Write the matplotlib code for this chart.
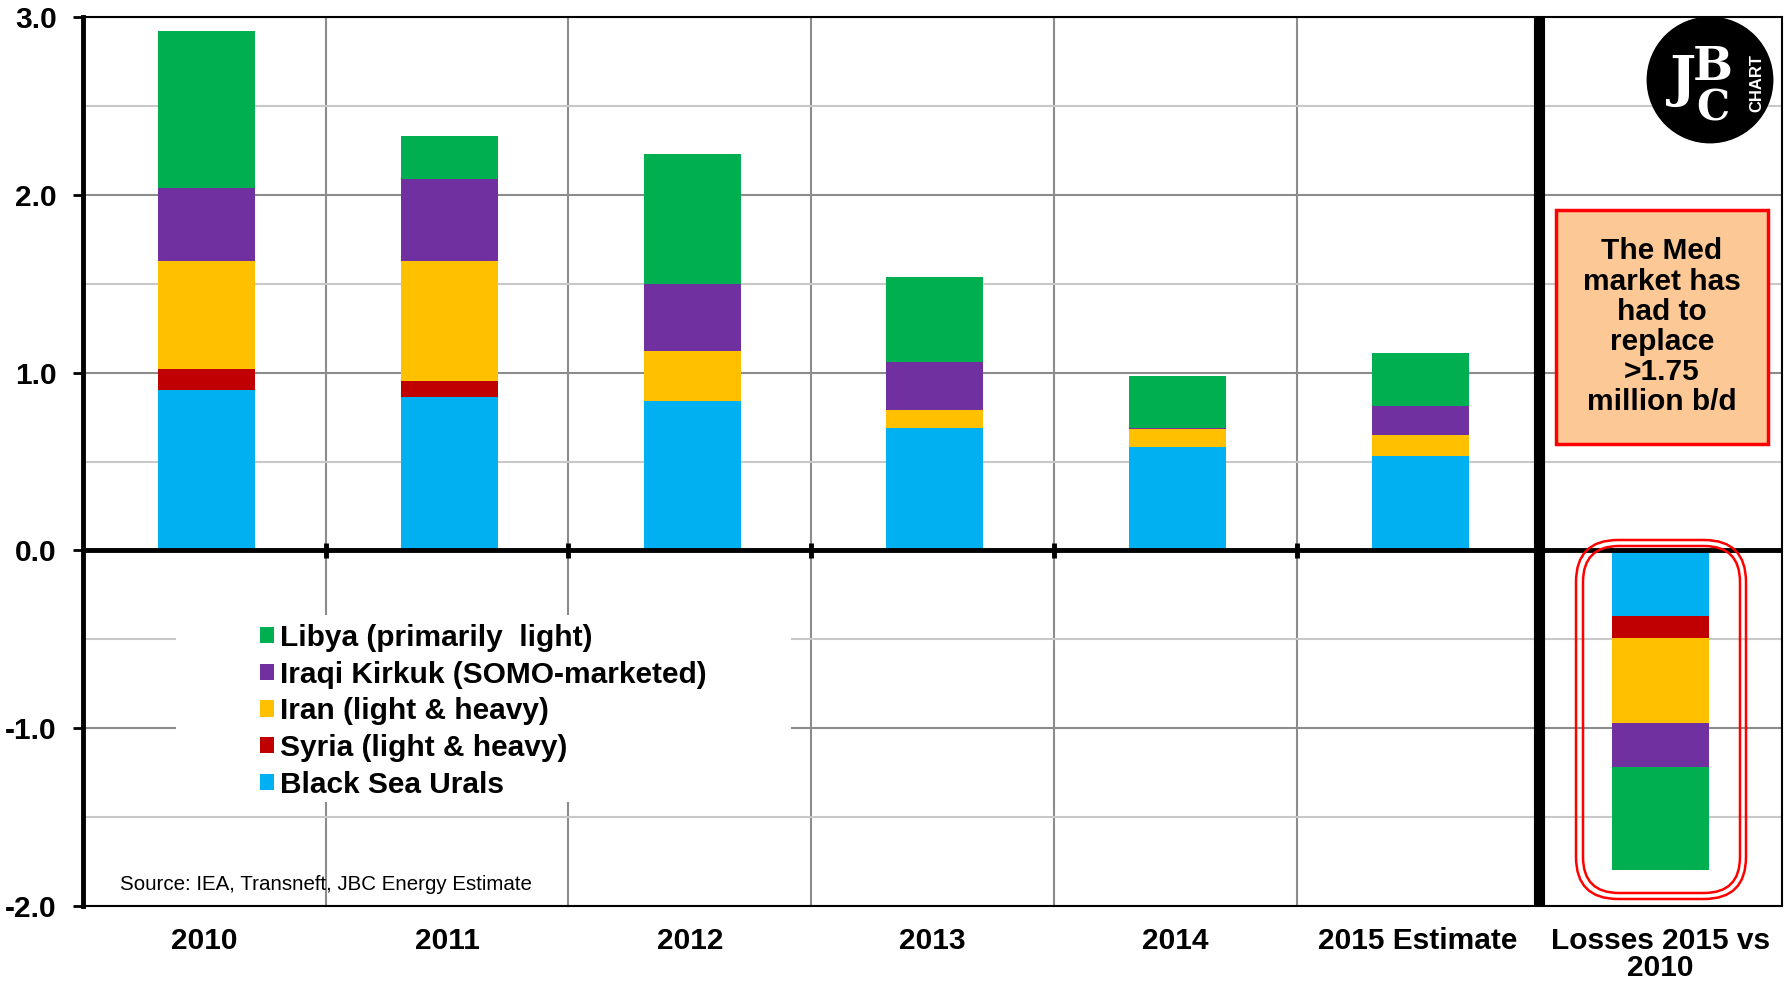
import numpy as np
import matplotlib.pyplot as plt
from matplotlib.patches import Rectangle, FancyBboxPatch, Circle

plt.rcParams['font.family'] = ['Liberation Sans', 'DejaVu Sans']

# Med crude supply by grade, million b/d
years = ['2010', '2011', '2012', '2013', '2014', '2015 Estimate']
urals = [0.90, 0.86, 0.84, 0.69, 0.58, 0.53]
syria = [0.12, 0.09, 0.00, 0.00, 0.00, 0.00]
iran = [0.61, 0.68, 0.28, 0.10, 0.10, 0.12]
iraq = [0.41, 0.46, 0.38, 0.27, 0.01, 0.16]
libya = [0.88, 0.24, 0.73, 0.48, 0.29, 0.30]

# change 2015 vs 2010
loss_label = 'Losses 2015 vs\n2010'
loss_urals = -0.37
loss_syria = -0.12
loss_iran = -0.48
loss_iraq = -0.25
loss_libya = -0.58

names = ['Black Sea Urals', 'Syria (light & heavy)', 'Iran (light & heavy)',
         'Iraqi Kirkuk (SOMO-marketed)', 'Libya (primarily  light)']
colors = ['#00B0F0', '#C00000', '#FFC000', '#7030A0', '#00B050']
series = [urals, syria, iran, iraq, libya]
losses = [loss_urals, loss_syria, loss_iran, loss_iraq, loss_libya]

FS = 21.5
W, H = 1784, 981
fig = plt.figure(figsize=(W / 100, H / 100), dpi=100)
ax = fig.add_axes([83 / W, 1 - 906 / H, (1782 - 83) / W, (906 - 17) / H])
ax.set_axisbelow(True)

x = np.arange(len(years))
bw = 0.40
bottom = np.zeros(len(years))
handles = []
for vals, col, name in zip(series, colors, names):
    h = ax.bar(x + 0.01, vals, bw, bottom=bottom, color=col, label=name, zorder=2)
    handles.append(h)
    bottom += np.array(vals)

# stacked losses bar going down from zero
lb = 0.0
for v, col in zip(losses, colors):
    ax.bar(len(years), v, bw, bottom=lb, color=col, zorder=2)
    lb += v

ax.set_xlim(-0.5, len(years) + 0.5)
ax.set_ylim(-2, 3)

# axes styling
ax.set_yticks([-2, -1, 0, 1, 2, 3])
ax.set_yticklabels([f'{v:.1f}' for v in [-2, -1, 0, 1, 2, 3]])
ax.set_yticks(np.arange(-1.5, 3, 1.0), minor=True)
ax.set_xticks(list(x) + [len(years)])
ax.set_xticklabels(years + [loss_label], linespacing=0.95)
ax.set_xticks(np.arange(0.5, len(years) - 0.5, 1.0), minor=True)

ax.tick_params(axis='y', which='major', direction='out', length=7, width=2,
               pad=12, labelsize=FS)
ax.tick_params(axis='y', which='minor', length=0)
ax.tick_params(axis='x', which='both', length=0, pad=15, labelsize=FS)
for lab in ax.get_xticklabels() + ax.get_yticklabels():
    lab.set_fontweight('bold')

ax.grid(axis='y', which='major', color='#8C8C8C', lw=1.5)
ax.grid(axis='y', which='minor', color='#C8C8C8', lw=1.5)
ax.grid(axis='x', which='minor', color='#8C8C8C', lw=1.5)

for side in ['top', 'right', 'bottom']:
    ax.spines[side].set_linewidth(1.5)
ax.spines['left'].set_linewidth(3.5)

# zero line with category tick marks
ax.axhline(0, color='black', lw=3.5, zorder=3)
ax.vlines(np.arange(0.5, len(years) - 0.5, 1.0), -0.04, 0.04,
          color='black', lw=3.5, zorder=3)
# separator before the losses column
ax.axvline(len(years) - 0.5, color='black', lw=8, zorder=3)

# legend on a white patch
ax.add_patch(Rectangle((176 / W, 1 - 802 / H), (791 - 176) / W, (802 - 615) / H,
                       transform=fig.transFigure, facecolor='white',
                       edgecolor='none', zorder=1))
leg = ax.legend(handles=handles[::-1], loc='upper left',
                bbox_to_anchor=(239 / W, 1 - 603 / H),
                bbox_transform=fig.transFigure, frameon=False,
                prop={'weight': 'bold', 'size': FS},
                handlelength=0.47, handleheight=0.47, handletextpad=0.2,
                labelspacing=0.29, borderpad=0.2)

fig.text(120 / W, 1 - 884 / H, 'Source: IEA, Transneft, JBC Energy Estimate',
         fontsize=14.8, va='center', ha='left')

# callout box
fig.add_artist(Rectangle((1556 / W, 1 - 444 / H), (1768 - 1556) / W, (444 - 210) / H,
                         transform=fig.transFigure, facecolor='#FCC996',
                         edgecolor='#FF0000', lw=2.5))
fig.text(1662 / W, 1 - 327 / H,
         'The Med\nmarket has\nhad to\nreplace\n>1.75\nmillion b/d',
         ha='center', va='center', fontsize=FS, fontweight='bold',
         linespacing=1.10)

# double rounded frame round the losses bar
for x0, y0, x1, y1, r in [(1576, 540, 1746, 899, 42), (1583, 546, 1740, 893, 36)]:
    fig.add_artist(FancyBboxPatch((x0, H - y1), x1 - x0, y1 - y0,
                                  boxstyle=f'round,pad=0,rounding_size={r}',
                                  transform=None, facecolor='none',
                                  edgecolor='#FF0000', lw=1.8))

# logo
lax = fig.add_axes([(1710 - 64) / W, 1 - (80 + 64) / H, 128 / W, 128 / H])
lax.set_xlim(-1, 1)
lax.set_ylim(-1, 1)
lax.set_aspect('equal')
lax.axis('off')
lax.add_patch(Circle((0, 0), 0.98, color='black'))
lax.text(-0.42, 0.0, 'J', color='white', fontsize=40, fontweight='bold',
         family='DejaVu Serif', ha='center', va='center')
lax.text(0.05, 0.2, 'B', color='white', fontsize=34, fontweight='bold',
         family='DejaVu Serif', ha='center', va='center')
lax.text(0.05, -0.45, 'C', color='white', fontsize=30, fontweight='bold',
         family='DejaVu Serif', ha='center', va='center')
lax.text(0.74, -0.05, 'CHART', color='white', fontsize=12, fontweight='bold',
         rotation=90, ha='center', va='center')

fig.savefig('out.png', dpi=100)
